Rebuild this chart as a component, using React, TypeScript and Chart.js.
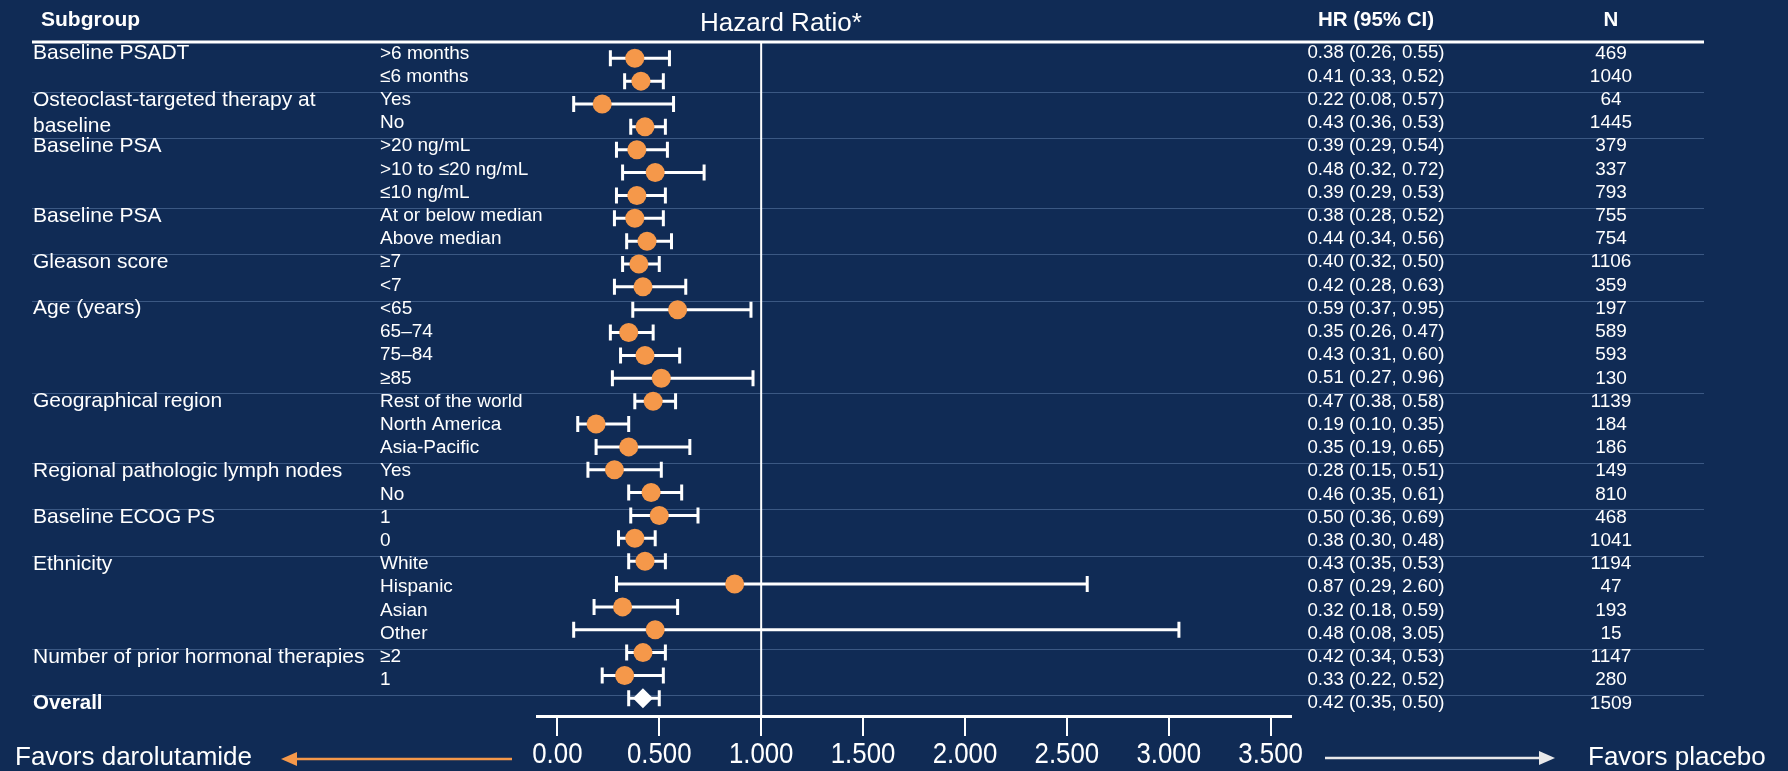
import { useEffect, useRef } from "react";
import { Chart, registerables } from "chart.js";

Chart.register(...registerables);

// ---- data ----
const groupLabels = [
  "Baseline PSADT",
  "Osteoclast-targeted therapy at\nbaseline",
  "Baseline PSA",
  "Baseline PSA",
  "Gleason score",
  "Age (years)",
  "Geographical region",
  "Regional pathologic lymph nodes",
  "Baseline ECOG PS",
  "Ethnicity",
  "Number of prior hormonal therapies",
];
const groupSizes = [2, 2, 3, 2, 2, 4, 3, 2, 2, 4, 2];

const subgroupLabels = [
  ">6 months", "≤6 months",
  "Yes", "No",
  ">20 ng/mL", ">10 to ≤20 ng/mL", "≤10 ng/mL",
  "At or below median", "Above median",
  "≥7", "<7",
  "<65", "65–74", "75–84", "≥85",
  "Rest of the world", "North America", "Asia-Pacific",
  "Yes", "No",
  "1", "0",
  "White", "Hispanic", "Asian", "Other",
  "≥2", "1",
];
const hazardRatios = [
  0.38, 0.41, 0.22, 0.43, 0.39, 0.48, 0.39, 0.38, 0.44, 0.40, 0.42, 0.59, 0.35, 0.43,
  0.51, 0.47, 0.19, 0.35, 0.28, 0.46, 0.50, 0.38, 0.43, 0.87, 0.32, 0.48, 0.42, 0.33,
];
const ciLower = [
  0.26, 0.33, 0.08, 0.36, 0.29, 0.32, 0.29, 0.28, 0.34, 0.32, 0.28, 0.37, 0.26, 0.31,
  0.27, 0.38, 0.10, 0.19, 0.15, 0.35, 0.36, 0.30, 0.35, 0.29, 0.18, 0.08, 0.34, 0.22,
];
const ciUpper = [
  0.55, 0.52, 0.57, 0.53, 0.54, 0.72, 0.53, 0.52, 0.56, 0.50, 0.63, 0.95, 0.47, 0.60,
  0.96, 0.58, 0.35, 0.65, 0.51, 0.61, 0.69, 0.48, 0.53, 2.60, 0.59, 3.05, 0.53, 0.52,
];
const patientCounts = [
  469, 1040, 64, 1445, 379, 337, 793, 755, 754, 1106, 359, 197, 589, 593,
  130, 1139, 184, 186, 149, 810, 468, 1041, 1194, 47, 193, 15, 1147, 280,
];

const overallLabel = "Overall";
const overallHR = 0.42;
const overallLower = 0.35;
const overallUpper = 0.5;
const overallN = 1509;

const xTickValues = [0, 0.5, 1, 1.5, 2, 2.5, 3, 3.5];
const xTickLabels = ["0.00", "0.500", "1.000", "1.500", "2.000", "2.500", "3.000", "3.500"];

// ---- styling ----
const NAVY = "#102b55";
const ORANGE = "#f5984a";
const WHITE = "#ffffff";
const RULE = "rgba(95,125,170,0.55)";
const FONT = '"Liberation Sans", Arial, Helvetica, sans-serif';

const fmt = (v: number) => v.toFixed(2);

const forestPlugin = {
  id: "forestLayout",
  beforeDraw(chart: any) {
    const { ctx, width, height } = chart;
    ctx.save();
    ctx.fillStyle = NAVY;
    ctx.fillRect(0, 0, width, height);
    ctx.restore();
  },
  beforeDatasetsDraw(chart: any) {
    const { ctx, chartArea } = chart;
    const x = chart.scales.x;
    const y = chart.scales.y;
    const yText = chart.scales.yText;
    const tableLeft = 32;
    const tableRight = 1704;

    ctx.save();
    // group separators
    ctx.strokeStyle = RULE;
    ctx.lineWidth = 1;
    let start = 0;
    groupSizes.forEach((n) => {
      start += n;
      const sy = Math.round(yText.getPixelForValue(start - 0.35)) + 0.5;
      ctx.beginPath();
      ctx.moveTo(tableLeft, sy);
      ctx.lineTo(tableRight, sy);
      ctx.stroke();
    });

    // header rule
    ctx.strokeStyle = WHITE;
    ctx.lineWidth = 3;
    ctx.beginPath();
    ctx.moveTo(tableLeft, chartArea.top);
    ctx.lineTo(tableRight, chartArea.top);
    ctx.stroke();

    // line of no effect
    const x1 = x.getPixelForValue(1);
    ctx.lineWidth = 2;
    ctx.beginPath();
    ctx.moveTo(x1, chartArea.top);
    ctx.lineTo(x1, chartArea.bottom);
    ctx.stroke();

    // confidence intervals
    const drawCI = (lo: number, hi: number, row: number) => {
      const py = y.getPixelForValue(row);
      const a = x.getPixelForValue(lo);
      const b = x.getPixelForValue(hi);
      ctx.strokeStyle = WHITE;
      ctx.lineWidth = 3;
      ctx.beginPath();
      ctx.moveTo(a, py);
      ctx.lineTo(b, py);
      ctx.moveTo(a, py - 8);
      ctx.lineTo(a, py + 8);
      ctx.moveTo(b, py - 8);
      ctx.lineTo(b, py + 8);
      ctx.stroke();
    };
    hazardRatios.forEach((_, i) => drawCI(ciLower[i], ciUpper[i], i));
    drawCI(overallLower, overallUpper, hazardRatios.length);
    ctx.restore();
  },
  afterDraw(chart: any) {
    const { ctx } = chart;
    const x = chart.scales.x;
    const yText = chart.scales.yText;

    const text = (
      s: string,
      px: number,
      py: number,
      size: number,
      opts: { bold?: boolean; align?: CanvasTextAlign; color?: string; sx?: number } = {}
    ) => {
      ctx.save();
      ctx.font = `${opts.bold ? "bold " : ""}${size}px ${FONT}`;
      ctx.fillStyle = opts.color || WHITE;
      ctx.textAlign = opts.align || "left";
      ctx.textBaseline = "middle";
      ctx.translate(px, py);
      if (opts.sx) ctx.scale(opts.sx, 1);
      ctx.fillText(s, 0, 0);
      ctx.restore();
    };

    // column headers
    text("Subgroup", 41, 20, 21, { bold: true });
    text("Hazard Ratio*", 781, 24, 26, { align: "center" });
    text("HR (95% CI)", 1376, 20, 20.5, { bold: true, align: "center" });
    text("N", 1611, 20, 20.5, { bold: true, align: "center" });

    // group labels
    let row = 0;
    groupLabels.forEach((g, gi) => {
      const gy = yText.getPixelForValue(row);
      g.split("\n").forEach((line, li) => text(line, 33, gy + li * 26, 21));
      row += groupSizes[gi];
    });

    // subgroup rows
    subgroupLabels.forEach((s, i) => {
      const ty = yText.getPixelForValue(i);
      text(s, 380, ty, 19);
      text(`${fmt(hazardRatios[i])} (${fmt(ciLower[i])}, ${fmt(ciUpper[i])})`, 1376, ty, 18.7, { align: "center" });
      text(String(patientCounts[i]), 1611, ty, 19, { align: "center" });
    });

    // overall row
    const oy = yText.getPixelForValue(subgroupLabels.length);
    text(overallLabel, 33, oy, 20.5, { bold: true });
    text(`${fmt(overallHR)} (${fmt(overallLower)}, ${fmt(overallUpper)})`, 1376, oy, 18.7, { align: "center" });
    text(String(overallN), 1611, oy, 19, { align: "center" });

    // x tick labels
    x.ticks.forEach((t: any) => {
      const k = xTickValues.indexOf(t.value);
      if (k < 0) return;
      text(xTickLabels[k], x.getPixelForValue(t.value), 755, 30, { align: "center", sx: 0.86 });
    });

    // direction arrows
    const arrow = (from: number, tip: number, py: number, color: string) => {
      const dir = Math.sign(tip - from);
      ctx.save();
      ctx.strokeStyle = color;
      ctx.fillStyle = color;
      ctx.lineWidth = 2.5;
      ctx.beginPath();
      ctx.moveTo(from, py);
      ctx.lineTo(tip - dir * 14, py);
      ctx.stroke();
      ctx.beginPath();
      ctx.moveTo(tip, py);
      ctx.lineTo(tip - dir * 16, py - 7);
      ctx.lineTo(tip - dir * 16, py + 7);
      ctx.closePath();
      ctx.fill();
      ctx.restore();
    };
    text("Favors darolutamide", 15, 758, 26);
    arrow(512, 281, 759, ORANGE);
    arrow(1325, 1555, 758, "#e8e8ea");
    text("Favors placebo", 1588, 758, 26);
  },
};

export default function App() {
  const canvasRef = useRef<HTMLCanvasElement>(null);

  useEffect(() => {
    document.body.style.margin = "0";
    document.body.style.background = NAVY;
    const canvas = canvasRef.current;
    if (!canvas) return;

    const overallRow = hazardRatios.length;
    const chart = new Chart(canvas, {
      type: "scatter",
      data: {
        datasets: [
          {
            data: hazardRatios.map((v, i) => ({ x: v, y: i })),
            pointStyle: "circle",
            pointRadius: 9.5,
            pointBackgroundColor: ORANGE,
            pointBorderWidth: 0,
            clip: false,
          },
          {
            data: [{ x: overallHR, y: overallRow }],
            pointStyle: "rectRot",
            pointRadius: 10,
            pointBackgroundColor: WHITE,
            pointBorderWidth: 0,
            clip: false,
          },
        ],
      },
      options: {
        responsive: false,
        animation: false,
        events: [],
        layout: { padding: { left: 537, right: 497, top: 42, bottom: 0 } },
        plugins: { legend: { display: false }, tooltip: { enabled: false } },
        scales: {
          x: {
            type: "linear",
            min: -0.1,
            max: 3.6,
            afterFit: (s: any) => {
              s.height = 55;
            },
            ticks: { display: false, stepSize: 0.5, includeBounds: false },
            grid: {
              drawOnChartArea: false,
              drawTicks: true,
              tickLength: 20,
              color: WHITE,
              lineWidth: 2,
            },
            border: { display: true, color: WHITE, width: 3 },
          },
          y: {
            type: "linear",
            axis: "y",
            display: false,
            reverse: true,
            min: -0.713,
            max: 28.774,
          },
          yText: {
            type: "linear",
            axis: "y",
            display: false,
            reverse: true,
            min: -0.487,
            max: 28.547,
          },
        },
      } as any,
      plugins: [forestPlugin],
    });

    return () => chart.destroy();
  }, []);

  return (
    <div style={{ position: "fixed", left: 0, top: 0, width: 1788, height: 771, background: NAVY }}>
      <canvas ref={canvasRef} width={1788} height={771} style={{ display: "block" }} />
    </div>
  );
}
